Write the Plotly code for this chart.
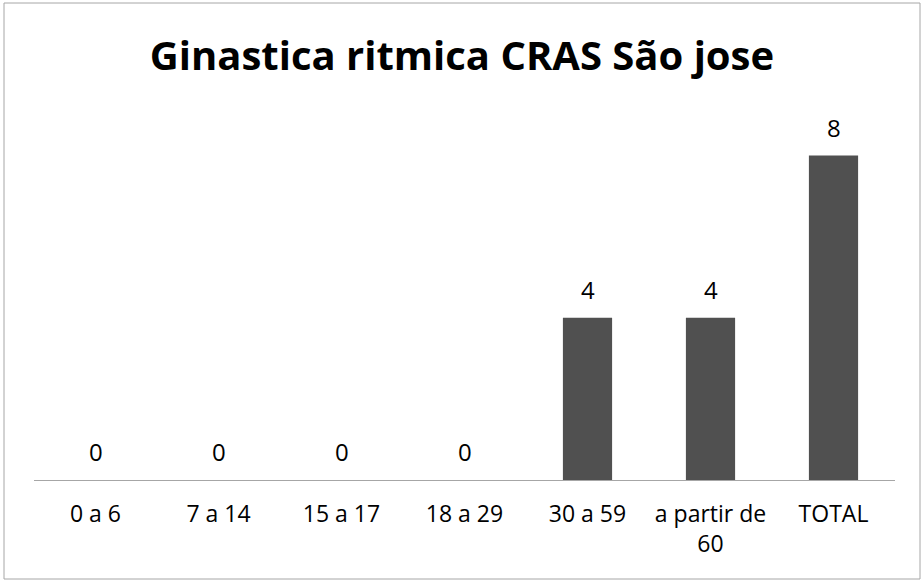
import plotly.graph_objects as go

# Participants per age group
categories = ["0 a 6", "7 a 14", "15 a 17", "18 a 29", "30 a 59", "a partir de<br>60", "TOTAL"]
values = [0, 0, 0, 0, 4, 4, 8]
title_text = "Ginastica ritmica CRAS São jose"

W, H = 924, 581
bar_color = "#505050"
text_color = "#000000"
font_family = "Open Sans, Liberation Sans, sans-serif"

fig = go.Figure(
    go.Bar(
        x=categories,
        y=values,
        marker=dict(color=bar_color, line=dict(width=0)),
        cliponaxis=False,
        width=0.4,
    )
)

# Value labels above each bar
for cat, val in zip(categories, values):
    fig.add_annotation(
        x=cat,
        y=val,
        text=str(val),
        showarrow=False,
        yanchor="bottom",
        yshift=10,
        font=dict(family=font_family, size=24, color=text_color),
    )

fig.update_layout(
    width=W,
    height=H,
    margin=dict(l=34, r=W - 895, t=115, b=H - 480),
    paper_bgcolor="white",
    plot_bgcolor="white",
    showlegend=False,
    title=dict(
        text="<b>" + title_text + "</b>",
        x=0.5,
        xanchor="center",
        y=1 - 56 / H,
        yanchor="middle",
        font=dict(family=font_family, size=40, color="#000000"),
    ),
    xaxis=dict(
        showline=True,
        linecolor="#a6a6a6",
        linewidth=1,
        ticks="",
        ticklabelstandoff=13,
        tickfont=dict(family=font_family, size=23, color=text_color),
        showgrid=False,
        fixedrange=True,
    ),
    yaxis=dict(
        range=[0, 9],
        visible=False,
        showgrid=False,
        zeroline=False,
    ),
    shapes=[
        dict(
            type="rect",
            xref="paper",
            yref="paper",
            x0=-30 / 861,
            x1=(920 - 34) / 861,
            y0=-(579 - 480) / 365,
            y1=(480 - 3) / 365,
            line=dict(color="#a6a6a6", width=1),
            fillcolor="rgba(0,0,0,0)",
            layer="below",
        )
    ],
)

fig.write_html("out.html")
